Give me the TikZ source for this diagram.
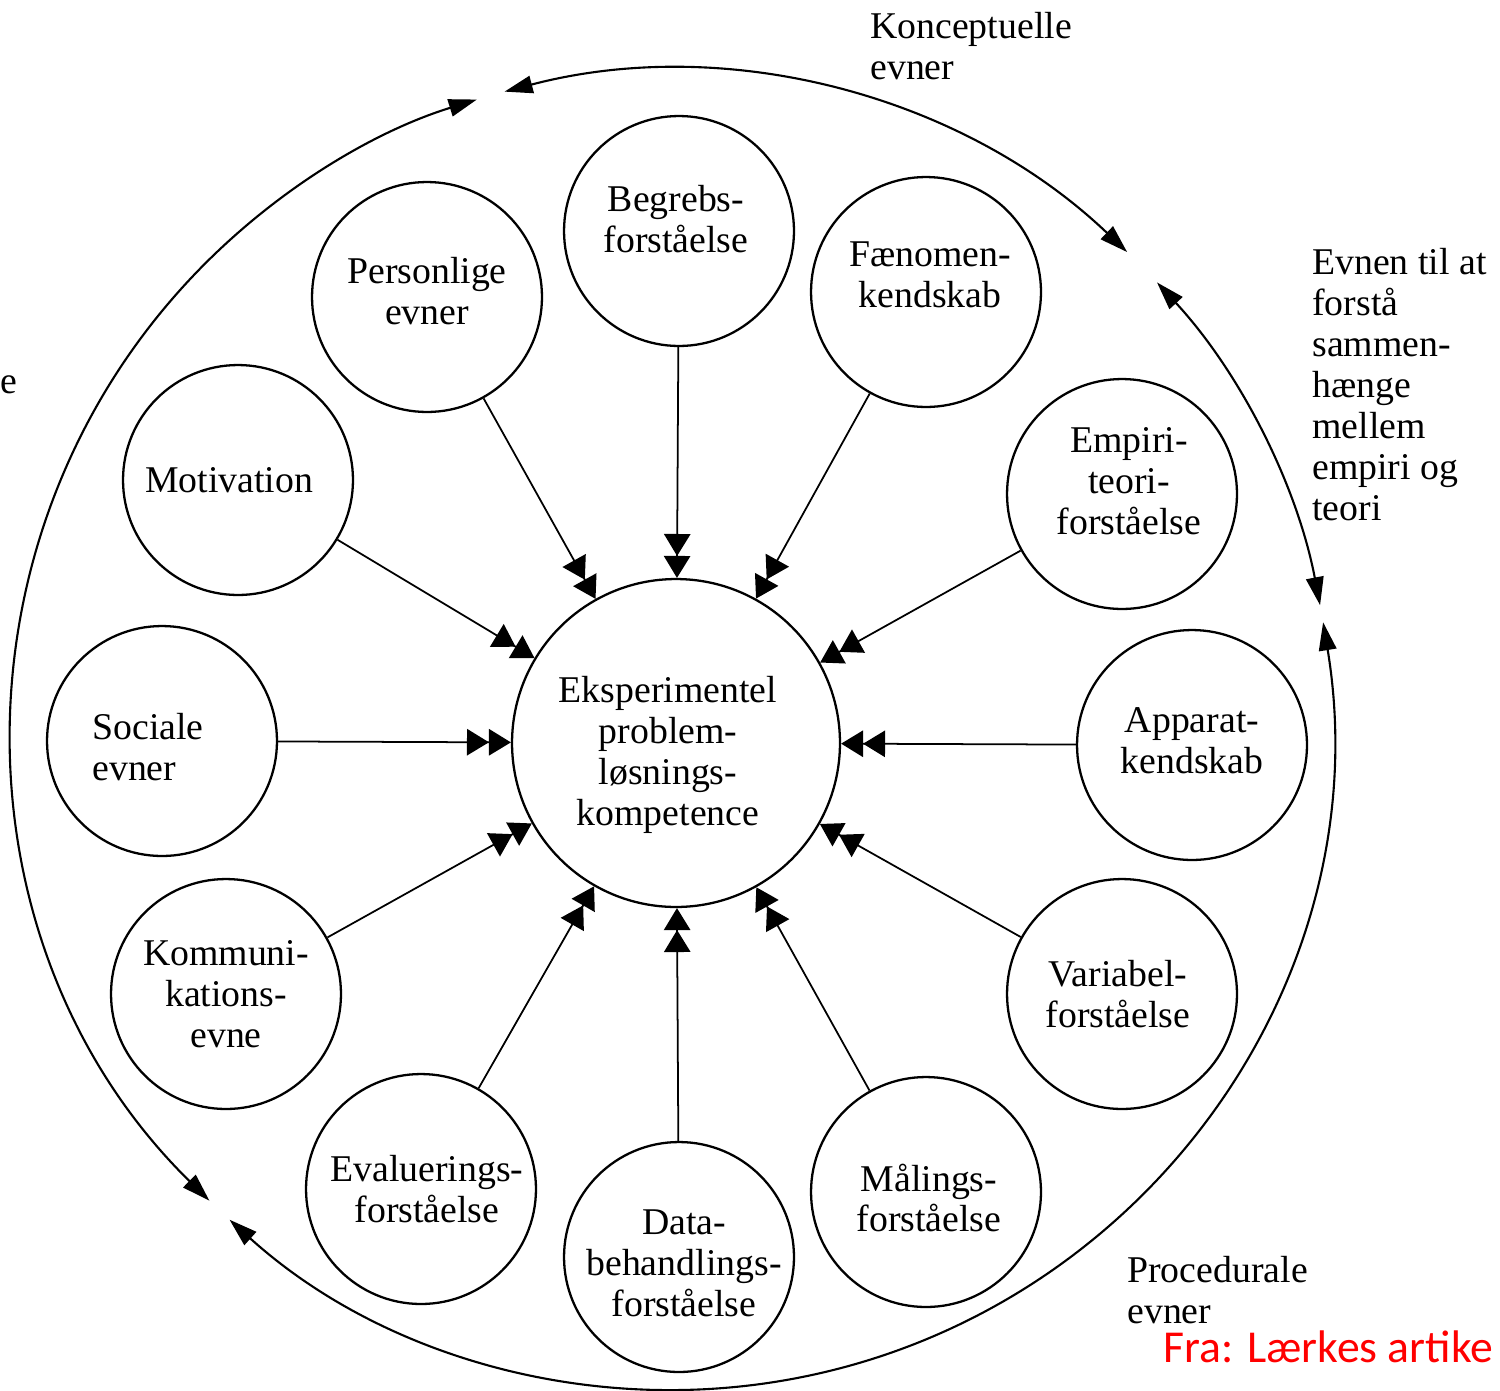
\documentclass[tikz,border=0pt]{standalone}
\usepackage{fontspec}
\setmainfont{Liberation Serif}
\newfontfamily\calfont{Carlito}
\usetikzlibrary{arrows.meta}

\begin{document}
\begin{tikzpicture}[x=0.02cm,y=0.02cm,
                    feed/.style={-{Triangle[length=12.5pt,width=15pt]Triangle[length=12.5pt,width=15pt]},line width=1pt},
                    ring arc/.style={{Triangle[length=16pt,width=10pt]}-{Triangle[length=16pt,width=10pt]},line width=1.2pt}]
  \tikzstyle{skill}=[circle,draw=black,line width=1.3pt,minimum size=4.6cm,inner sep=0pt]
  \tikzstyle{core}=[skill,minimum size=6.56cm]
  \tikzstyle{tag}=[inner sep=0pt,align=center,font=\fontsize{21.5}{23.3}\selectfont]
  \tikzstyle{note}=[inner sep=0pt,align=left,font=\fontsize{21.5}{23.3}\selectfont]

  \useasboundingbox (0,0) rectangle (1500,-1390);

  \node[core,label={[tag,shift={(-8,-12)}]center:{Eksperimentel\\problem-\\løsnings-\\kompetence}}] (kerne) at (676,-743) {};
  \node[skill,label={[tag,shift={(-3,12)}]center:{Begrebs-\\forståelse}}]                (begreb)        at (679,-231)  {};
  \node[skill,label={[tag,shift={(4,17)}]center:{Fænomen-\\kendskab}}]                   (faenomen)      at (926,-292)  {};
  \node[skill,label={[tag,shift={(7,13)}]center:{Empiri-\\teori-\\forståelse}}]          (empiri)        at (1122,-494) {};
  \node[skill,label={[tag,shift={(0,4)}]center:{Apparat-\\kendskab}}]                    (apparat)       at (1192,-745) {};
  \node[skill,label={[tag,shift={(-4,0)}]center:{Variabel-\\forståelse}}]                (variabel)      at (1122,-994) {};
  \node[skill,label={[tag,shift={(3,-6)}]center:{Målings-\\forståelse}}]                 (maaling)       at (926,-1192) {};
  \node[skill,label={[tag,shift={(5,-6)}]center:{Data-\\behandlings-\\forståelse}}]      (data)          at (679,-1257) {};
  \node[skill,label={[tag,shift={(6,0)}]center:{Evaluerings-\\forståelse}}]              (evaluering)    at (421,-1189) {};
  \node[skill,label={[tag]center:{Kommuni-\\kations-\\evne}}]                            (kommunikation) at (226,-994)  {};
  \node[skill,label={[tag,align=left,shift={(-14,-6)}]center:{Sociale\\evner}}]          (social)        at (162,-741)  {};
  \node[skill,label={[tag,shift={(-9,0)}]center:{Motivation}}]                           (motivation)    at (238,-480)  {};
  \node[skill,label={[tag,shift={(0,6)}]center:{Personlige\\evner}}]                     (personlig)     at (427,-297)  {};

  % everything feeds the centre
  \path[feed] (begreb)        edge (kerne)
              (faenomen)      edge (kerne)
              (empiri)        edge (kerne)
              (apparat)       edge (kerne)
              (variabel)      edge (kerne)
              (maaling)       edge (kerne)
              (data)          edge (kerne)
              (evaluering)    edge (kerne)
              (kommunikation) edge (kerne)
              (social)        edge (kerne)
              (motivation)    edge (kerne)
              (personlig)     edge (kerne);

  % outer ring
  \coordinate (nav) at (672,-730);
  \draw[ring arc] ([shift={(104.7:660)}]nav) arc[start angle=104.7,end angle=46.4,radius=660];
  \draw[ring arc] ([shift={(42.7:660)}]nav)  arc[start angle=42.7,end angle=10.9,radius=660];
  \draw[ring arc] ([shift={(9.4:660)}]nav)   arc[start angle=9.4,end angle=-132.1,radius=660];
  \draw[ring arc] ([shift={(225.5:660)}]nav) arc[start angle=225.5,end angle=107.2,radius=660];

  \node[note,anchor=north west] (konc)   at (870,-12)    {Konceptuelle\\evner};
  \node[note,anchor=north west] (sammen) at (1312,-248)  {Evnen til at\\forstå\\sammen-\\hænge\\mellem\\empiri og\\teori};
  \node[note,anchor=north west] (proc)   at (1127,-1256) {Procedurale\\evner};
  \node[note,anchor=base west]  (rest)   at (0,-393)     {e};
  \node[anchor=base west,inner sep=0pt,text=red,font=\calfont\fontsize{26}{31}\selectfont] (kilde) at (1163,-1362) {Fra: Lærkes artike};
\end{tikzpicture}
\end{document}
